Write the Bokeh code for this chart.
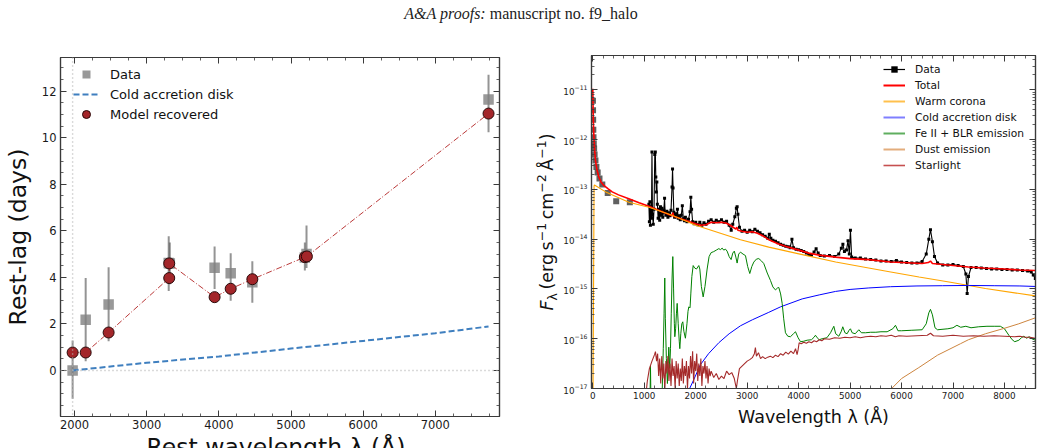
import numpy as np
from bokeh.plotting import figure
from bokeh.models import (Range1d, LinearAxis, LogAxis, SingleIntervalTicker, FixedTicker,
                          LogTickFormatter, Span, Legend, LegendItem, Div)
from bokeh.layouts import column, row
from bokeh.embed import file_html
from bokeh.resources import INLINE

# ------------------------------------------------------------------ left panel data
lag_ref_wl = 1973          # reference band (zero lag)
lag_zero = 0.0
data_wl = [1973, 2154, 2472, 3305, 3320, 3941, 4164, 4464, 5192, 5215, 7738]
data_lag = [0.0, 2.18, 2.83, 4.62, 4.60, 4.41, 4.18, 3.79, 4.85, 5.00, 11.65]
data_lo = [-1.22, 0.40, 1.25, 3.41, 3.70, 3.50, 3.00, 2.91, 4.30, 4.40, 10.24]
data_hi = [1.29, 3.97, 4.44, 5.77, 5.50, 5.33, 5.04, 4.69, 5.50, 6.23, 12.71]

disk_wl = [1973, 3000, 4000, 5000, 6000, 7000, 7738]
disk_lag = [0.0, 0.33, 0.60, 0.94, 1.27, 1.60, 1.89]

model_wl = [1973, 2154, 2472, 3312, 3312, 3941, 4164, 4464, 5192, 5220, 7738]
model_lag = [0.77, 0.77, 1.63, 3.97, 4.60, 3.15, 3.51, 3.92, 4.87, 4.90, 11.04]

# ------------------------------------------------------------------ right panel data (log10 flux)
uv_wl = [3, 5, 7, 10, 14, 19, 26, 35, 52, 70, 95, 130, 185, 290, 455, 720]
uv_logf = [-11.22, -11.41, -11.60, -11.80, -11.95, -12.08, -12.18, -12.30, -12.42, -12.55,
           -12.66, -12.78, -12.90, -13.07, -13.24, -13.26]

spec_wl = [1090, 1100, 1110, 1120, 1130, 1140, 1150, 1160, 1175, 1190,
           1205, 1215, 1225, 1235, 1245, 1255, 1270, 1285, 1300, 1315,
           1330, 1345, 1360, 1380, 1395, 1405, 1420, 1440, 1460, 1480,
           1500, 1520, 1540, 1550, 1560, 1575, 1590, 1610, 1630, 1645,
           1660, 1680, 1700, 1720, 1740, 1760, 1780, 1800, 1830, 1860,
           1890, 1905, 1920, 1940, 1970, 2000, 2040, 2080, 2120, 2160,
           2200, 2250, 2300, 2350, 2400, 2450, 2500, 2550, 2600, 2650,
           2690, 2720, 2760, 2790, 2805, 2820, 2850, 2900, 2950, 3000,
           3050, 3100, 3150, 3200, 3250, 3300, 3350, 3400, 3430, 3460,
           3500, 3550, 3600, 3650, 3700, 3750, 3800, 3835, 3870, 3900,
           3950, 4000, 4050, 4100, 4150, 4200, 4250, 4300, 4340, 4380,
           4420, 4500, 4600, 4700, 4780, 4830, 4860, 4890, 4930, 4960,
           4985, 5007, 5030, 5100, 5200, 5300, 5400, 5500, 5600, 5700,
           5800, 5900, 6000, 6100, 6200, 6300, 6400, 6480, 6530, 6562,
           6600, 6640, 6700, 6800, 6900, 7000, 7100, 7200, 7250, 7275,
           7300, 7350, 7450, 7550, 7650, 7750, 7850, 7950, 8050, 8150,
           8250, 8350, 8450, 8520, 8560, 8600]
spec_logf = [-13.30, -13.65, -13.25, -13.72, -13.35, -13.58, -12.25, -13.50, -13.70, -13.40,
             -12.30, -12.25, -12.75, -13.05, -12.85, -13.30, -13.58, -13.40, -13.62, -13.35,
             -13.52, -13.38, -13.56, -13.42, -13.18, -13.46, -13.52, -13.44, -13.56, -13.47,
             -13.53, -13.42, -12.95, -12.59, -12.97, -13.46, -13.56, -13.49, -13.55, -13.40,
             -13.58, -13.53, -13.61, -13.52, -13.33, -13.59, -13.63, -13.56, -13.65, -13.60,
             -13.45, -13.16, -13.40, -13.65, -13.69, -13.66, -13.71, -13.66, -13.72, -13.67,
             -13.70, -13.64, -13.61, -13.66, -13.62, -13.65, -13.61, -13.66, -13.64, -13.72,
             -13.82, -13.70, -13.55, -13.38, -13.35, -13.50, -13.76, -13.84, -13.82, -13.86,
             -13.82, -13.85, -13.80, -13.84, -13.87, -13.91, -13.94, -13.98, -13.90, -13.98,
             -14.02, -14.04, -14.07, -14.10, -14.12, -14.14, -14.15, -14.17, -14.00, -14.17,
             -14.20, -14.21, -14.23, -14.25, -14.28, -14.31, -14.32, -14.26, -14.19, -14.28,
             -14.33, -14.34, -14.33, -14.35, -14.30, -14.18, -14.10, -14.25, -14.22, -14.03,
             -14.30, -13.82, -14.36, -14.38, -14.38, -14.40, -14.41, -14.42, -14.44, -14.44,
             -14.45, -14.43, -14.46, -14.47, -14.48, -14.48, -14.45, -14.30, -14.00, -13.81,
             -14.05, -14.35, -14.48, -14.52, -14.52, -14.51, -14.53, -14.55, -14.70, -15.09,
             -14.75, -14.57, -14.57, -14.58, -14.59, -14.60, -14.60, -14.61, -14.61, -14.62,
             -14.62, -14.63, -14.64, -14.66, -14.72, -14.79]

tot_wl = [0, 5, 10, 19, 35, 52, 80, 117, 160, 214,
          300, 377, 500, 700, 900, 1088, 1300, 1540, 1555, 1570,
          1800, 1996, 2100, 2200, 2300, 2400, 2500, 2600, 2700, 2780,
          2800, 2820, 2900, 3000, 3100, 3200, 3300, 3420, 3600, 3800,
          4069, 4200, 4400, 4717, 5000, 5364, 5785, 6000, 6400, 6520,
          6562, 6600, 7000, 7300, 7600, 8000, 8300, 8600]
tot_logf = [-10.98, -11.30, -11.60, -11.88, -12.20, -12.42, -12.60, -12.75, -12.85, -12.92,
            -12.99, -13.05, -13.11, -13.19, -13.27, -13.34, -13.43, -13.53, -13.47, -13.54,
            -13.62, -13.69, -13.72, -13.71, -13.66, -13.67, -13.66, -13.68, -13.74, -13.80,
            -13.76, -13.82, -13.84, -13.86, -13.85, -13.88, -13.93, -14.01, -14.09, -14.16,
            -14.24, -14.28, -14.32, -14.36, -14.39, -14.41, -14.46, -14.47, -14.49, -14.47,
            -14.44, -14.49, -14.53, -14.56, -14.58, -14.60, -14.62, -14.63]

cor_wl = [0, 25, 32, 250, 700, 1090, 1540, 2000, 2870, 3420, 4070, 4720, 5360, 5790,
          6340, 6980, 7630, 8600]
cor_logf = [-18.0, -12.93, -12.91, -13.05, -13.26, -13.36, -13.52, -13.72, -14.01, -14.16,
            -14.31, -14.46, -14.58, -14.66, -14.76, -14.87, -14.99, -15.14]

cold_wl = [1860, 1950, 2093, 2250, 2449, 2650, 2870, 3100, 3420, 3648, 4069, 4400, 4717,
           5000, 5364, 5785, 6300, 6800, 7300, 7800, 8300, 8600]
cold_logf = [-17.05, -16.85, -16.52, -16.30, -16.08, -15.90, -15.74, -15.62, -15.47, -15.36,
             -15.20, -15.12, -15.05, -15.01, -14.98, -14.955, -14.94, -14.935, -14.93,
             -14.935, -14.94, -14.95]

fe_wl = [1100, 1115, 1121, 1127, 1135, 1330, 1350, 1370, 1385, 1399,
         1410, 1430, 1450, 1465, 1477, 1495, 1510, 1525, 1540, 1555,
         1570, 1585, 1594, 1610, 1625, 1640, 1660, 1680, 1691, 1710,
         1730, 1749, 1770, 1800, 1830, 1850, 1866, 1890, 1905, 1925,
         1951, 1980, 2015, 2040, 2060, 2080, 2110, 2145, 2180, 2222,
         2260, 2300, 2350, 2400, 2449, 2480, 2514, 2545, 2578, 2610,
         2650, 2688, 2720, 2750, 2780, 2805, 2835, 2870, 2920, 2967,
         3010, 3051, 3090, 3129, 3180, 3226, 3280, 3323, 3390, 3453,
         3500, 3550, 3590, 3615, 3650, 3680, 3710, 3744, 3790, 3841,
         3900, 3939, 3990, 4036, 4100, 4165, 4250, 4300, 4327, 4360,
         4400, 4457, 4550, 4620, 4684, 4720, 4781, 4830, 4858, 4900,
         4942, 4980, 5007, 5040, 5100, 5170, 5220, 5300, 5400, 5500,
         5600, 5720, 5830, 5882, 5930, 6000, 6200, 6400, 6480, 6530,
         6562, 6600, 6650, 6700, 6900, 7000, 7076, 7150, 7250, 7350,
         7500, 7660, 7800, 7920, 8000, 8085, 8150, 8200, 8280, 8330,
         8376, 8430, 8480, 8530, 8602]
fe_logf = [-18.0, -17.0, -16.55, -17.0, -18.0, -18.0, -17.0, -16.2, -15.5, -14.78,
           -15.6, -16.4, -16.9, -16.5, -16.17, -16.6, -16.2, -15.5, -14.8, -14.35,
           -15.0, -15.7, -15.96, -15.8, -15.5, -15.29, -15.7, -16.05, -16.2, -15.9,
           -15.7, -15.66, -15.85, -15.99, -15.7, -15.45, -15.36, -15.38, -15.1, -14.75,
           -14.53, -14.58, -14.60, -14.56, -14.53, -14.6, -14.95, -15.16, -14.95, -14.6,
           -14.35, -14.27, -14.25, -14.22, -14.19, -14.21, -14.18, -14.22, -14.20, -14.24,
           -14.35, -14.41, -14.28, -14.24, -14.36, -14.48, -14.30, -14.26, -14.30, -14.33,
           -14.55, -14.69, -14.55, -14.46, -14.40, -14.39, -14.44, -14.49, -14.68, -14.83,
           -14.96, -15.02, -14.98, -14.97, -15.10, -15.29, -15.60, -15.88, -15.95, -15.96,
           -15.90, -15.86, -15.98, -16.06, -16.05, -16.03, -16.02, -15.97, -15.93, -15.98,
           -16.02, -16.00, -15.98, -15.88, -15.75, -15.90, -15.95, -15.85, -15.76, -15.88,
           -15.90, -15.83, -15.80, -15.88, -15.90, -15.82, -15.88, -15.88, -15.87, -15.87,
           -15.86, -15.86, -15.80, -15.73, -15.84, -15.84, -15.83, -15.82, -15.70, -15.48,
           -15.41, -15.52, -15.78, -15.82, -15.80, -15.78, -15.73, -15.77, -15.75, -15.78,
           -15.76, -15.75, -15.75, -15.75, -15.80, -15.93, -16.02, -16.06, -16.03, -15.98,
           -15.95, -15.99, -15.96, -16.00, -16.03]

dust_wl = [5760, 6000, 6335, 6700, 7146, 7300, 7632, 8000, 8279, 8600]
dust_logf = [-17.05, -16.80, -16.58, -16.33, -16.10, -16.02, -15.90, -15.79, -15.70, -15.58]

star_wl = [1024, 1060, 1100, 1150, 1200, 1218, 1240, 1260, 1280, 1300,
           1320, 1340, 1360, 1380, 1400, 1420, 1440, 1460, 1480, 1500,
           1520, 1540, 1560, 1580, 1600, 1620, 1640, 1660, 1680, 1700,
           1720, 1740, 1760, 1780, 1800, 1820, 1840, 1860, 1880, 1900,
           1920, 1940, 1960, 1980, 2000, 2020, 2040, 2060, 2080, 2100,
           2120, 2140, 2160, 2180, 2200, 2220, 2240, 2260, 2280, 2300,
           2350, 2400, 2450, 2500, 2550, 2600, 2650, 2700, 2750, 2790,
           2810, 2850, 2900, 2950, 3000, 3050, 3100, 3140, 3160, 3180,
           3220, 3260, 3300, 3350, 3400, 3450, 3500, 3550, 3600, 3650,
           3700, 3750, 3800, 3850, 3900, 3940, 3970, 3990, 4010, 4050,
           4100, 4150, 4200, 4250, 4300, 4350, 4400, 4450, 4500, 4600,
           4700, 4800, 4900, 5000, 5100, 5200, 5300, 5400, 5500, 5600,
           5700, 5800, 5880, 5950, 6100, 6300, 6500, 6562, 6620, 6800,
           7000, 7200, 7400, 7600, 7800, 8000, 8200, 8300, 8400, 8500,
           8600]
star_logf = [-17.2, -16.85, -16.6, -16.45, -16.32, -16.26, -16.45, -16.30, -16.75, -16.40,
             -16.90, -16.35, -16.80, -16.50, -17.05, -16.45, -16.70, -16.35, -16.85, -16.50,
             -16.95, -16.40, -16.75, -16.55, -17.00, -16.45, -16.80, -16.50, -16.95, -16.60,
             -16.85, -16.40, -16.90, -16.55, -16.75, -16.45, -17.00, -16.55, -16.80, -16.35,
             -16.70, -16.25, -16.90, -16.45, -16.65, -16.30, -16.85, -16.50, -16.75, -16.40,
             -16.95, -16.55, -16.70, -16.45, -16.80, -16.55, -16.90, -16.60, -16.75, -16.65,
             -16.78, -16.70, -16.82, -16.75, -16.80, -16.65, -16.72, -16.68, -16.80, -17.00,
             -16.85, -16.60, -16.55, -16.50, -16.45, -16.42, -16.38, -16.30, -16.18, -16.35,
             -16.28, -16.40, -16.36, -16.40, -16.37, -16.35, -16.38, -16.33, -16.36, -16.30,
             -16.33, -16.27, -16.31, -16.25, -16.30, -16.20, -16.32, -16.22, -16.08, -16.10,
             -16.07, -16.09, -16.06, -16.08, -16.04, -16.06, -16.02, -16.04, -16.00, -16.01,
             -15.98, -15.99, -15.97, -15.98, -15.96, -15.98, -15.96, -15.95, -15.96, -15.94,
             -15.95, -15.93, -15.96, -15.94, -15.95, -15.94, -15.93, -15.89, -15.94, -15.95,
             -15.93, -15.95, -15.94, -15.95, -15.94, -15.95, -15.96, -15.95, -15.97, -15.97,
             -15.99]

left_legend = ["Data", "Cold accretion disk", "Model recovered"]
right_legend = ["Data", "Total", "Warm corona", "Cold accretion disk", "Fe II + BLR emission",
                "Dust emission", "Starlight"]

for a, b in [(spec_wl, spec_logf), (tot_wl, tot_logf), (cor_wl, cor_logf), (cold_wl, cold_logf),
             (fe_wl, fe_logf), (dust_wl, dust_logf), (star_wl, star_logf), (uv_wl, uv_logf)]:
    assert len(a) == len(b)


def flux(lst):
    return [10.0 ** v for v in lst]


NAN = [float("nan")]   # placeholder source for legend-only swatches

# ------------------------------------------------------------------ geometry / styles
FONT = "DejaVu Sans"
AX = "#3a3a3a"
HEADER_H = 36

L_X0, L_X1, L_Y0, L_Y1 = 1805, 7890, -1.98, 13.45
L_FL, L_FR, L_FT, L_FB = 53, 499, 57, 416          # frame edges on the page

R_X0, R_X1, R_LOG0, R_LOG1 = -25, 8603, -17.0, -10.31
R_FL, R_FR, R_FT, R_FB = 591, 1035, 55, 388


def style_axis(ax, fs, labels=True):
    ax.axis_line_color = AX
    ax.axis_line_width = 1.2
    ax.major_tick_line_color = AX
    ax.minor_tick_line_color = AX
    ax.major_tick_line_width = 1.0
    ax.minor_tick_line_width = 0.8
    ax.major_tick_in = 6
    ax.major_tick_out = 0
    ax.minor_tick_in = 3
    ax.minor_tick_out = 0
    ax.major_label_text_font = FONT
    if labels:
        ax.major_label_text_color = "#1a1a1a"
        ax.major_label_text_font_size = fs
        ax.major_label_standoff = 3
    else:
        ax.major_label_text_color = None
        ax.major_label_text_font_size = "1px"
        ax.major_label_standoff = 0


# ------------------------------------------------------------------ left figure
p1 = figure(width=520, height=448 - HEADER_H, x_range=Range1d(L_X0, L_X1),
            y_range=Range1d(L_Y0, L_Y1), output_backend="svg", toolbar_location=None,
            title=None, min_border_left=L_FL, min_border_right=520 - L_FR,
            min_border_top=L_FT - HEADER_H, min_border_bottom=448 - L_FB,
            background_fill_color="white", border_fill_color="white")
p1.frame_align = False
p1.grid.visible = False
p1.outline_line_color = AX
p1.outline_line_width = 1.2

p1.xaxis.ticker = SingleIntervalTicker(interval=1000, num_minor_ticks=4)
p1.yaxis.ticker = SingleIntervalTicker(interval=2, num_minor_ticks=4)
style_axis(p1.xaxis[0], "11.5px")
style_axis(p1.yaxis[0], "11.5px")
p1.yaxis[0].major_label_standoff = 4
p1.yaxis.axis_label = "Rest-lag (days)"
p1.yaxis.axis_label_text_font = FONT
p1.yaxis.axis_label_text_font_size = "23.5px"
p1.yaxis.axis_label_text_font_style = "normal"
p1.yaxis.axis_label_text_color = "#111111"
p1.yaxis.axis_label_standoff = 7

top1 = LinearAxis(ticker=SingleIntervalTicker(interval=1000, num_minor_ticks=4))
style_axis(top1, "1px", labels=False)
p1.add_layout(top1, "above")
right1 = LinearAxis(ticker=SingleIntervalTicker(interval=2, num_minor_ticks=4))
style_axis(right1, "1px", labels=False)
p1.add_layout(right1, "right")

p1.add_layout(Span(location=lag_zero, dimension="width", line_color="#b5b5b5",
                   line_dash="1 3", line_width=1.4))
p1.add_layout(Span(location=lag_ref_wl, dimension="height", line_color="#b5b5b5",
                   line_dash="1 3", line_width=1.4))

err = p1.segment(x0=data_wl, y0=data_lo, x1=data_wl, y1=data_hi, line_color="#4d4d4d",
                 line_alpha=0.6, line_width=2)
sq = p1.scatter(data_wl, data_lag, marker="square", size=10.5, fill_color="#808080",
                fill_alpha=0.8, line_color=None)
dl = p1.line(disk_wl, disk_lag, line_color="#3f7fbf", line_width=2, line_dash="6 3")
ml = p1.line(model_wl, model_lag, line_color="#b22222", line_width=0.9, line_dash="6 2 1 2")
mc = p1.scatter(model_wl, model_lag, marker="circle", size=11, fill_color="#a3262a",
                line_color="#2a0a0a", line_width=1)

leg1 = Legend(items=[LegendItem(label=left_legend[0], renderers=[sq]),
                     LegendItem(label=left_legend[1], renderers=[dl]),
                     LegendItem(label=left_legend[2], renderers=[mc])],
              location=(13, 292), padding=0, margin=0, border_line_alpha=0,
              background_fill_alpha=0, label_text_font=FONT, label_text_font_size="13px",
              label_text_color="#111111", glyph_width=26, glyph_height=20, label_height=20,
              spacing=0, label_standoff=11)
p1.add_layout(leg1)

# ------------------------------------------------------------------ right figure
p2 = figure(width=522, height=448 - HEADER_H, x_range=Range1d(R_X0, R_X1),
            y_range=Range1d(10 ** R_LOG0, 10 ** R_LOG1), y_axis_type="log",
            output_backend="svg", toolbar_location=None, title=None,
            min_border_left=R_FL - 520, min_border_right=1042 - R_FR,
            min_border_top=R_FT - HEADER_H, min_border_bottom=448 - R_FB,
            background_fill_color="white", border_fill_color="white")
p2.frame_align = False
p2.grid.visible = False
p2.outline_line_color = AX
p2.outline_line_width = 1.2

major_log = [10.0 ** e for e in range(-17, -10)]
minor_log = [k * 10.0 ** e for e in range(-17, -10) for k in range(2, 10)]
p2.xaxis.ticker = SingleIntervalTicker(interval=1000, num_minor_ticks=5)
p2.yaxis.ticker = FixedTicker(ticks=major_log, minor_ticks=minor_log)
p2.yaxis.formatter = LogTickFormatter()
style_axis(p2.xaxis[0], "8.8px")
style_axis(p2.yaxis[0], "8.8px")
p2.yaxis[0].major_label_standoff = 4
p2.xaxis.axis_label = "Wavelength λ (Å)"
p2.xaxis.axis_label_text_font = FONT
p2.xaxis.axis_label_text_font_size = "17.5px"
p2.xaxis.axis_label_text_font_style = "normal"
p2.xaxis.axis_label_text_color = "#111111"
p2.xaxis.axis_label_standoff = 5

top2 = LinearAxis(ticker=SingleIntervalTicker(interval=1000, num_minor_ticks=5))
style_axis(top2, "1px", labels=False)
p2.add_layout(top2, "above")
right2 = LogAxis(ticker=FixedTicker(ticks=major_log, minor_ticks=minor_log))
style_axis(right2, "1px", labels=False)
p2.add_layout(right2, "right")

uvr = p2.scatter(uv_wl, flux(uv_logf), marker="square", size=6, fill_color="#444444",
                 fill_alpha=0.85, line_color=None)
spl = p2.line(spec_wl, flux(spec_logf), line_color="black", line_width=1.1)
spm = p2.scatter(spec_wl, flux(spec_logf), marker="square", size=3, fill_color="black",
                 line_color=None)
tl = p2.line(tot_wl, flux(tot_logf), line_color="#ff0000", line_width=1.6)
cl = p2.line(cor_wl, flux(cor_logf), line_color="#ffa500", line_width=1.1)
bl = p2.line(cold_wl, flux(cold_logf), line_color="#0000ff", line_width=1.0)
gl = p2.line(fe_wl, flux(fe_logf), line_color="#008000", line_width=1.0)
dul = p2.line(dust_wl, flux(dust_logf), line_color="#cd853f", line_width=1.0)
stl = p2.line(star_wl, flux(star_logf), line_color="#a52a2a", line_width=1.1)

# legend swatches (NaN sources: nothing drawn in the frame, only in the legend)
sw_data_l = p2.line(NAN, NAN, line_color="black", line_width=1.2)
sw_data_m = p2.scatter(NAN, NAN, marker="square", size=6, fill_color="black", line_color=None)
sw_tot = p2.line(NAN, NAN, line_color="#ff0000", line_width=2)
sw_cor = p2.line(NAN, NAN, line_color="#ffc04d", line_width=2)
sw_cold = p2.line(NAN, NAN, line_color="#7f7fff", line_width=2)
sw_fe = p2.line(NAN, NAN, line_color="#5fae5f", line_width=2)
sw_dust = p2.line(NAN, NAN, line_color="#e3ad7c", line_width=2)
sw_star = p2.line(NAN, NAN, line_color="#c65050", line_width=1.6)

leg2 = Legend(items=[LegendItem(label=right_legend[0], renderers=[sw_data_l, sw_data_m]),
                     LegendItem(label=right_legend[1], renderers=[sw_tot]),
                     LegendItem(label=right_legend[2], renderers=[sw_cor]),
                     LegendItem(label=right_legend[3], renderers=[sw_cold]),
                     LegendItem(label=right_legend[4], renderers=[sw_fe]),
                     LegendItem(label=right_legend[5], renderers=[sw_dust]),
                     LegendItem(label=right_legend[6], renderers=[sw_star])],
              location=(292, 215), padding=0, margin=0, border_line_alpha=0,
              background_fill_alpha=0, label_text_font=FONT, label_text_font_size="10.7px",
              label_text_color="#111111", glyph_width=22, glyph_height=16, label_height=16,
              spacing=0, label_standoff=10)
p2.add_layout(leg2)

# ------------------------------------------------------------------ header (+ the two outer labels)
left_xlabel = "Rest wavelength λ (Å)"
right_ylabel_html = ('<i>F</i><sub style="font-size:12.5px">λ</sub>&#8201;(erg&#8201;s'
                     '<sup style="font-size:12.5px">−1</sup>&#8201;cm'
                     '<sup style="font-size:12.5px">−2</sup>&#8201;Å'
                     '<sup style="font-size:12.5px">−1</sup>)')
header_html = (
    '<div style="position:relative;width:1042px;height:%dpx;">'
    '<div style="font-family:\'Liberation Serif\',serif;font-size:16px;text-align:center;'
    'padding-top:3px;color:#222"><i>A&amp;A proofs:</i> manuscript no. f9_halo</div>'
    '<div style="position:absolute;left:%dpx;top:436px;transform:translateX(-50%%);'
    'white-space:nowrap;font-family:\'DejaVu Sans\';font-size:23.5px;line-height:1;'
    'color:#111;z-index:10">%s</div>'
    '<div style="position:absolute;left:548px;top:222px;'
    'transform:translate(-50%%,-50%%) rotate(-90deg);white-space:nowrap;'
    'font-family:\'DejaVu Sans\';font-size:17.5px;line-height:1;color:#111;z-index:10">%s</div>'
    '</div>') % (HEADER_H, (L_FL + L_FR) // 2, left_xlabel, right_ylabel_html)

header = Div(text=header_html, width=1042, height=HEADER_H, margin=(0, 0, 0, 0),
             styles={"overflow": "visible", "z-index": "10"})
p1.margin = (0, 0, 0, 0)
p2.margin = (0, 0, 0, 0)
layout = column(header, row(p1, p2, spacing=0), spacing=0)

open("out.html", "w").write(file_html(layout, INLINE))
